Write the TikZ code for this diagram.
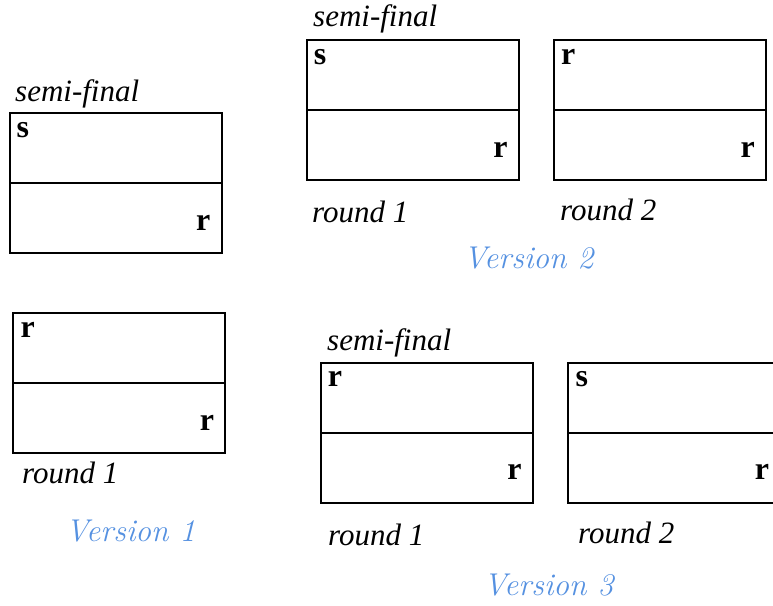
\documentclass[tikz,border=0pt]{standalone}
\usepackage{fontspec}
\setmainfont{Liberation Serif}
\newfontfamily\lmfont{Latin Modern Roman}
\usetikzlibrary{calc}
\definecolor{verblue}{RGB}{85,145,225}
\begin{document}
\begin{tikzpicture}[x=1pt,y=-1pt,
  halfbox/.style={draw, line width=2pt, minimum width=212pt, minimum height=70pt,
    inner sep=0pt, outer sep=0pt, anchor=north west},
  lbl/.style={font=\fontsize{31}{36}\selectfont\itshape, anchor=base west, inner sep=0pt},
  letr/.style={font=\fontsize{32}{36}\selectfont\bfseries, inner sep=0pt},
  ver/.style={font=\fontsize{31.5}{36}\selectfont\lmfont\itshape, text=verblue, anchor=base, inner sep=0pt}]
\clip (0,0) rectangle (773,605);
\fill[white] (0,0) rectangle (773,605);
\foreach \n/\x/\y/\t in {1/9.5/113.3/s, 2/13.3/313.3/r, 3/306.7/40/s, 4/554/40/r, 5/320.7/362.7/r, 6/568.3/362.7/s}{
  \node[halfbox] (b\n t) at (\x,\y) {};
  \node[halfbox] (b\n b) at (b\n t.south west) {};
  \node[letr, anchor=base west] (b\n tl) at ($(b\n t.north west)+(7,24)$) {\t};
  \node[letr, anchor=base east] (b\n bl) at ($(b\n b.south east)+(-11,-23)$) {r};
}
\node[lbl] (sf1) at (15,101) {semi-final};
\node[lbl] (sf2) at (313,27) {semi-final};
\node[lbl] (sf3) at (327,350) {semi-final};
\node[lbl] (r11) at (22,483) {round 1};
\node[lbl] (r21) at (312,222) {round 1};
\node[lbl] (r22) at (560,220) {round 2};
\node[lbl] (r31) at (328,545) {round 1};
\node[lbl] (r32) at (578,543) {round 2};
\node[ver] (v1) at (130.5,541) {Version 1};
\node[ver] (v2) at (528.5,268) {Version 2};
\node[ver] (v3) at (548.5,595) {Version 3};
\end{tikzpicture}
\end{document}
